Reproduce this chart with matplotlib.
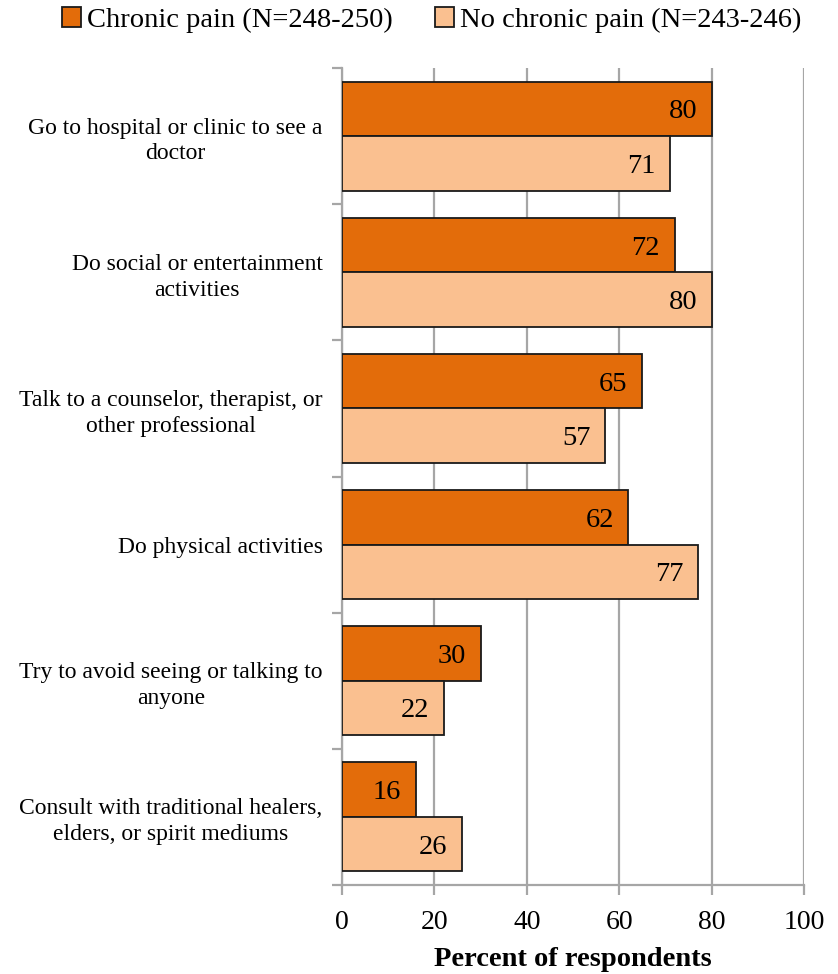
import matplotlib
matplotlib.use("Agg")
import matplotlib.pyplot as plt
import numpy as np

categories = [
    "Go to hospital or clinic to see a\ndoctor",
    "Do social or entertainment\nactivities",
    "Talk to a counselor, therapist, or\nother professional",
    "Do physical activities",
    "Try to avoid seeing or talking to\nanyone",
    "Consult with traditional healers,\nelders, or spirit mediums",
]
chronic = [80, 72, 65, 62, 30, 16]
no_chronic = [71, 80, 57, 77, 22, 26]
series_names = ["Chronic pain (N=248-250)", "No chronic pain (N=243-246)"]
xticks = [0, 20, 40, 60, 80, 100]

plt.rcParams["font.family"] = ["Liberation Serif", "DejaVu Serif"]

fig = plt.figure(figsize=(8.38, 9.74), dpi=100)
ax = fig.add_axes([342 / 838, 1 - 885 / 974, (804 - 342) / 838, (885 - 68) / 974])

n = len(categories)
pos = np.arange(n)
h = 0.4
dark = "#E36C0A"
light = "#FAC090"
grid_c = "#A6A6A6"

b1 = ax.barh(pos - h / 2, chronic, height=h, color=dark, edgecolor="#1a1a1a", linewidth=1.3, zorder=3, label=series_names[0])
b2 = ax.barh(pos + h / 2, no_chronic, height=h, color=light, edgecolor="#1a1a1a", linewidth=1.3, zorder=3, label=series_names[1])

for bars, vals in ((b1, chronic), (b2, no_chronic)):
    for rect, v in zip(bars, vals):
        ax.annotate(f"{v}", xy=(v, rect.get_y() + rect.get_height() / 2), xytext=(-10.5, 0),
                    textcoords="offset points", ha="right", va="center_baseline", fontsize=20.5, zorder=4)

ax.set_xlim(0, 100)
ax.set_ylim(n - 0.5, -0.5)
ax.set_xticks(xticks)
ax.set_xticklabels([str(t) for t in xticks], fontsize=20)
ax.xaxis.grid(True, color=grid_c, linewidth=1.6, zorder=0)
ax.tick_params(axis="x", length=7, width=1.6, color=grid_c, pad=11)

ax.set_yticks(np.arange(-0.5, n, 1.0))
ax.set_yticklabels([])
ax.set_yticks(pos, minor=True)
ax.set_yticklabels(categories, minor=True, fontsize=17, multialignment="center", linespacing=1.3)
ax.tick_params(axis="y", which="major", length=7, width=1.6, color=grid_c)
ax.tick_params(axis="y", which="minor", length=0, pad=14)

for s in ["top", "right"]:
    ax.spines[s].set_visible(False)
for s in ["left", "bottom"]:
    ax.spines[s].set_color(grid_c)
    ax.spines[s].set_linewidth(1.6)

ax.set_xlabel("Percent of respondents", fontsize=20.5, fontweight="bold", labelpad=9)

fig.legend(handles=[b1, b2], loc="center", bbox_to_anchor=(431.5 / 838, 1 - 20 / 974), ncol=2, frameon=False,
           fontsize=20.5, handlelength=0.67, handleheight=0.67, handletextpad=0.2, columnspacing=1.5,
           borderpad=0, borderaxespad=0)

fig.savefig("out.png", dpi=100)
